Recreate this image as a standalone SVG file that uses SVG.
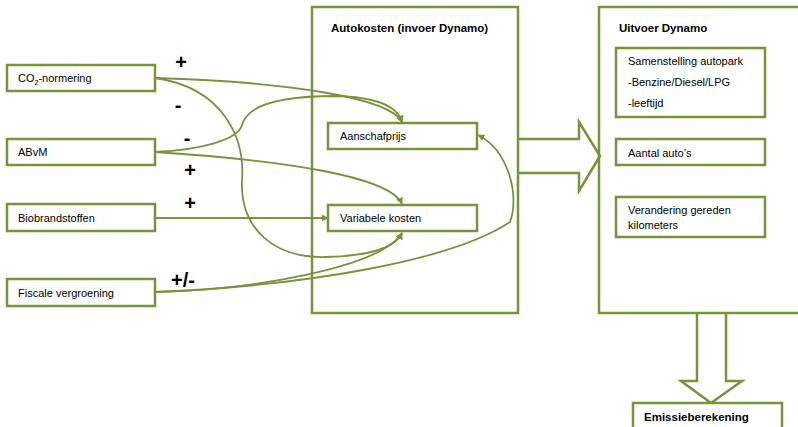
<svg xmlns="http://www.w3.org/2000/svg" width="798" height="427" viewBox="0 0 798 427">
<style>
.box{fill:#fff;stroke:#77933c;stroke-width:2.5}
.big{fill:none;stroke:#77933c;stroke-width:2.5}
.t{font-family:"Liberation Sans",Arial,sans-serif;font-size:11px;fill:#000}
.b{font-weight:bold;font-size:11.5px}
.sign{font-family:"Liberation Sans",Arial,sans-serif;font-size:20px;font-weight:bold;fill:#000;text-anchor:middle}
.c{fill:none;stroke:#77933c;stroke-width:1.8}
</style>
<defs>
<marker id="ah" viewBox="0 0 10 10" refX="9" refY="5" markerWidth="7" markerHeight="7" markerUnits="userSpaceOnUse" orient="auto">
<path d="M0,0 L10,5 L0,10 z" fill="#77933c"/>
</marker>
</defs>
<rect width="798" height="427" fill="#fff"/>

<g id="autokosten">
<rect class="box" x="312" y="7" width="206" height="306"/>
<text class="t b" x="331" y="32">Autokosten (invoer Dynamo)</text>
</g>
<g id="uitvoer">
<rect class="box" x="599" y="7" width="215" height="306"/>
<text class="t b" x="619" y="32">Uitvoer Dynamo</text>
</g>

<g id="arrow-right">
<path class="big" d="M518,139 H579 V122 L600,156 L579,191 V173 H518"/>
</g>
<g id="arrow-down">
<path class="big" d="M697,313 V381 H681 L711,403 L742,381 H726 V313"/>
</g>

<g id="co2">
<rect class="box" x="7" y="65" width="148" height="26"/>
<text class="t" x="18" y="82">CO<tspan font-size="7" dy="3">2</tspan><tspan dy="-3">-normering</tspan></text>
</g>
<g id="abvm">
<rect class="box" x="7" y="139" width="148" height="26"/>
<text class="t" x="18" y="156">ABvM</text>
</g>
<g id="bio">
<rect class="box" x="7" y="204" width="148" height="27"/>
<text class="t" x="18" y="222">Biobrandstoffen</text>
</g>
<g id="fiscale">
<rect class="box" x="7" y="279" width="148" height="27"/>
<text class="t" x="18" y="297">Fiscale vergroening</text>
</g>
<g id="aanschaf">
<rect class="box" x="328" y="123" width="149" height="26"/>
<text class="t" x="340" y="140">Aanschafprijs</text>
</g>
<g id="variabele">
<rect class="box" x="328" y="205" width="149" height="26"/>
<text class="t" x="340" y="222">Variabele kosten</text>
</g>
<g id="samenstelling">
<rect class="box" x="616" y="48" width="149" height="69"/>
<text class="t" x="628" y="65">Samenstelling autopark</text>
<text class="t" x="628" y="86">-Benzine/Diesel/LPG</text>
<text class="t" x="628" y="107">-leeftijd</text>
</g>
<g id="aantal">
<rect class="box" x="616" y="139" width="149" height="26"/>
<text class="t" x="628" y="157">Aantal auto’s</text>
</g>
<g id="verandering">
<rect class="box" x="616" y="197" width="149" height="40"/>
<text class="t" x="628" y="214">Verandering gereden</text>
<text class="t" x="628" y="229">kilometers</text>
</g>
<g id="emissie">
<rect class="box" x="633" y="403" width="149" height="40"/>
<text class="t b" x="644" y="421">Emissieberekening</text>
</g>

<g id="connectors">
<path class="c" marker-end="url(#ah)" d="M155,78 C290,82 390,98 402,122"/>
<path class="c" marker-end="url(#ah)" d="M155,78 C225,88 245,140 242,180 C240,230 275,258 325,257 C370,256 395,248 402,233"/>
<path class="c" marker-end="url(#ah)" d="M155,152 C200,150 238,140 242,125 C248,102 290,96 335,96 C380,97 398,108 402,122"/>
<path class="c" marker-end="url(#ah)" d="M155,152 C280,160 390,176 402,204"/>
<path class="c" marker-end="url(#ah)" d="M155,218 H328"/>
<path class="c" marker-end="url(#ah)" d="M155,292 C250,290 380,268 402,233"/>
<path class="c" marker-end="url(#ah)" d="M155,292 C300,286 450,262 510,222 C520,195 508,150 478,135"/>
</g>

<g id="labels">
<text class="sign" x="181" y="69">+</text>
<text class="sign" x="178" y="112">-</text>
<text class="sign" x="187" y="145">-</text>
<text class="sign" x="190" y="177">+</text>
<text class="sign" x="190" y="210">+</text>
<text class="sign" x="183" y="287">+/-</text>
</g>
</svg>
